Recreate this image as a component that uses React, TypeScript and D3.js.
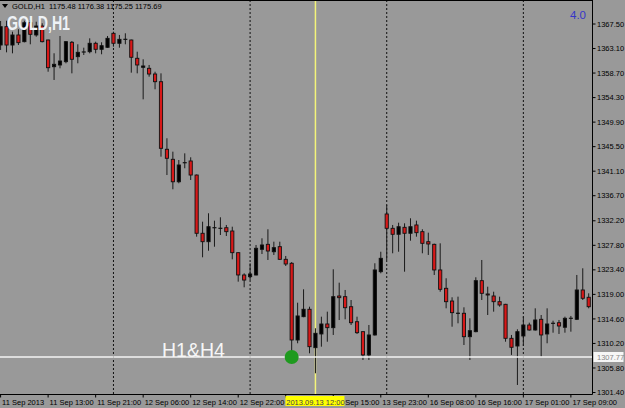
import { useEffect, useRef } from 'react'
import * as d3 from 'd3'

// hourly OHLC, GOLD H1, 11 Sep 05:00 -> 17 Sep 12:00
const open = [1363.73, 1367.02, 1363.73, 1365.53, 1364.33, 1367.73, 1365.53, 1367.14, 1364.63, 1359.84, 1360.15, 1360.74, 1364.22, 1361.64, 1362.48, 1362.53, 1364.04, 1362.96, 1363.32, 1365.83, 1364.04, 1364.75, 1364.63, 1361.35, 1359.73, 1359.55, 1358.53, 1357.15, 1345.03, 1343.23, 1339.2, 1342.62, 1342.93, 1340.41, 1329.96, 1328.45, 1330.96, 1330.85, 1330.96, 1330.37, 1326.48, 1322.48, 1322.17, 1322.48, 1327.09, 1327.98, 1326.65, 1327.56, 1325.29, 1324.58, 1310.82, 1315.0, 1316.33, 1309.44, 1311.9, 1313.69, 1313.03, 1318.71, 1318.59, 1316.79, 1314.1, 1312.31, 1308.14, 1311.72, 1323.07, 1333.42, 1330.85, 1329.78, 1331.03, 1329.96, 1331.45, 1330.25, 1328.45, 1327.98, 1323.38, 1320.09, 1317.81, 1315.61, 1315.61, 1311.41, 1312.31, 1321.46, 1319.07, 1318.71, 1317.69, 1317.22, 1311.12, 1309.74, 1311.54, 1313.51, 1312.61, 1314.53, 1311.9, 1313.81, 1313.92, 1313.1, 1314.71, 1314.53, 1319.79, 1318.48]
const high = [1368.04, 1368.09, 1366.12, 1366.55, 1368.09, 1368.22, 1367.91, 1367.63, 1364.7, 1362.25, 1365.35, 1364.45, 1364.45, 1363.86, 1363.25, 1364.93, 1364.33, 1364.22, 1365.35, 1366.12, 1365.53, 1365.83, 1364.7, 1362.53, 1361.17, 1360.15, 1358.94, 1358.65, 1347.0, 1344.6, 1343.1, 1344.3, 1343.59, 1340.5, 1332.04, 1333.55, 1332.22, 1332.83, 1331.45, 1331.14, 1326.5, 1322.78, 1324.58, 1327.86, 1329.06, 1330.68, 1328.45, 1328.45, 1325.89, 1324.8, 1317.51, 1319.91, 1316.79, 1312.92, 1315.0, 1315.9, 1323.5, 1321.1, 1319.79, 1317.99, 1315.0, 1312.4, 1313.51, 1324.58, 1326.65, 1335.03, 1331.45, 1331.86, 1331.75, 1332.65, 1332.22, 1330.68, 1330.07, 1328.1, 1328.16, 1321.89, 1318.48, 1318.59, 1316.68, 1314.71, 1322.07, 1325.17, 1320.38, 1319.48, 1318.59, 1317.3, 1311.72, 1312.74, 1315.0, 1313.92, 1316.5, 1315.3, 1316.5, 1314.28, 1314.41, 1315.0, 1315.13, 1322.48, 1323.68, 1319.19]
const low = [1362.84, 1362.42, 1362.24, 1363.73, 1364.2, 1363.86, 1365.22, 1364.2, 1358.94, 1357.46, 1359.55, 1360.45, 1358.65, 1360.45, 1361.94, 1362.24, 1362.24, 1362.07, 1363.2, 1363.43, 1363.25, 1363.86, 1358.77, 1358.65, 1353.99, 1358.05, 1355.79, 1343.7, 1340.41, 1337.85, 1338.93, 1341.62, 1339.52, 1329.35, 1325.65, 1326.83, 1327.55, 1329.65, 1329.47, 1325.29, 1321.28, 1320.27, 1321.57, 1322.4, 1326.24, 1325.17, 1326.07, 1325.2, 1324.09, 1308.43, 1310.23, 1314.9, 1308.43, 1304.85, 1309.62, 1310.51, 1311.72, 1314.4, 1314.53, 1313.51, 1311.9, 1307.23, 1307.23, 1311.6, 1322.78, 1325.17, 1326.37, 1326.65, 1323.07, 1328.63, 1329.35, 1326.37, 1326.07, 1322.48, 1319.48, 1316.5, 1313.2, 1313.81, 1309.92, 1307.23, 1312.2, 1317.99, 1315.3, 1315.9, 1316.79, 1310.51, 1308.14, 1302.75, 1309.74, 1312.5, 1312.5, 1307.82, 1310.23, 1312.13, 1311.9, 1312.13, 1312.31, 1314.4, 1317.99, 1316.5]
const close = [1367.02, 1363.73, 1365.53, 1364.15, 1367.73, 1365.65, 1367.14, 1364.33, 1359.66, 1360.27, 1360.86, 1364.33, 1361.17, 1362.42, 1362.48, 1364.04, 1362.96, 1363.61, 1364.93, 1364.04, 1364.75, 1364.75, 1361.53, 1360.15, 1359.97, 1358.53, 1357.15, 1345.2, 1343.41, 1339.2, 1342.21, 1342.62, 1340.41, 1329.96, 1328.45, 1331.14, 1330.96, 1330.85, 1330.25, 1326.48, 1322.48, 1321.57, 1322.66, 1327.27, 1327.86, 1326.78, 1327.38, 1325.29, 1324.45, 1310.82, 1315.13, 1316.33, 1309.62, 1312.02, 1313.69, 1313.03, 1318.59, 1318.41, 1316.61, 1313.92, 1312.13, 1308.14, 1311.72, 1323.38, 1325.47, 1330.85, 1329.78, 1331.14, 1329.96, 1331.14, 1330.07, 1328.16, 1328.04, 1323.38, 1319.91, 1317.69, 1315.72, 1315.61, 1311.41, 1312.49, 1321.46, 1319.19, 1318.89, 1317.69, 1317.1, 1311.12, 1309.51, 1312.31, 1313.51, 1312.61, 1314.41, 1311.72, 1313.69, 1313.81, 1313.33, 1314.71, 1314.71, 1319.79, 1318.3, 1316.79]

const priceTicks = ['1367.50', '1363.10', '1358.70', '1354.30', '1349.90', '1345.50', '1341.10', '1336.70', '1332.20', '1327.80', '1323.40', '1319.00', '1314.60', '1310.20', '1305.80', '1301.40']
const timeLabels = ['11 Sep 2013', '11 Sep 13:00', '11 Sep 21:00', '12 Sep 06:00', '12 Sep 14:00', '12 Sep 22:00', '13 Sep 07:00', '13 Sep 15:00', '13 Sep 23:00', '16 Sep 08:00', '16 Sep 16:00', '17 Sep 01:00', '17 Sep 09:00']
const timeLabelBars = [0, 8, 16, 24, 32, 40, 48, 56, 64, 72, 80, 88, 96]
const daySeparatorBars = [19, 42, 65, 88]
const markerBar = 53
const markerLabel = '2013.09.13 12:00'
const levelPrice = 1307.77
const circleBar = 49
const header = 'GOLD,H1  1175.48 1176.38 1175.25 1175.69'

export default function App() {
  const svgRef = useRef<SVGSVGElement>(null)
  const width = 625
  const height = 408

  useEffect(() => {
    if (!svgRef.current) return
    const svg = d3.select(svgRef.current)
    svg.selectAll('*').remove()

    const right = 592.5
    const bottom = 394.5
    const font = '"Liberation Sans", Arial, sans-serif'

    const x = d3.scaleLinear().domain([0, 99]).range([0.6, 588.7])
    const y = d3.scaleLinear().domain([1301.4, 1367.5]).range([392.5, 24])

    svg.append('rect').attr('width', width).attr('height', height).attr('fill', '#999999')

    // day separators
    daySeparatorBars.forEach(b => {
      svg.append('line')
        .attr('x1', x(b)).attr('x2', x(b))
        .attr('y1', 0).attr('y2', bottom)
        .attr('stroke', '#111').attr('stroke-width', 1)
        .attr('stroke-dasharray', '2,2')
    })

    // marker line
    svg.append('line')
      .attr('x1', x(markerBar)).attr('x2', x(markerBar))
      .attr('y1', 0).attr('y2', bottom)
      .attr('stroke', '#f4f47a').attr('stroke-width', 1.5)

    // candles
    const candles = svg.append('g')
    open.forEach((o, i) => {
      const c = close[i]
      const cx = x(i)
      candles.append('line')
        .attr('x1', cx).attr('x2', cx)
        .attr('y1', y(high[i])).attr('y2', y(low[i]))
        .attr('stroke', '#1a1a1a').attr('stroke-width', 1)
      if (o === c) {
        candles.append('line')
          .attr('x1', cx - 2).attr('x2', cx + 2)
          .attr('y1', y(o)).attr('y2', y(o))
          .attr('stroke', '#111').attr('stroke-width', 1.2)
        return
      }
      const top = y(Math.max(o, c))
      const h = Math.max(1, y(Math.min(o, c)) - top)
      candles.append('rect')
        .attr('x', cx - 1.6).attr('y', top)
        .attr('width', 3.2).attr('height', h)
        .attr('fill', c > o ? '#000' : '#d81818')
        .attr('stroke', '#111').attr('stroke-width', 0.9)
    })

    // level line
    svg.append('line')
      .attr('x1', 0).attr('x2', right)
      .attr('y1', y(levelPrice)).attr('y2', y(levelPrice))
      .attr('stroke', '#f4f4f4').attr('stroke-width', 1.3)

    svg.append('circle')
      .attr('cx', x(circleBar)).attr('cy', y(levelPrice))
      .attr('r', 7).attr('fill', '#1e9a1e')

    svg.append('text')
      .attr('x', 162).attr('y', 357)
      .attr('font-family', font).attr('font-size', 19.5)
      .attr('fill', '#f6f6f6')
      .text('H1&H4')

    // frame
    svg.append('line').attr('x1', 0).attr('x2', right).attr('y1', 0.5).attr('y2', 0.5).attr('stroke', '#000')
    svg.append('line').attr('x1', right).attr('x2', right).attr('y1', 0).attr('y2', bottom).attr('stroke', '#000')
    svg.append('line').attr('x1', 0).attr('x2', right).attr('y1', bottom).attr('y2', bottom).attr('stroke', '#000')

    // price axis
    priceTicks.forEach(t => {
      const ty = y(+t)
      svg.append('line').attr('x1', right).attr('x2', right + 3).attr('y1', ty).attr('y2', ty).attr('stroke', '#000')
      svg.append('text')
        .attr('x', 597).attr('y', ty).attr('dy', '0.35em')
        .attr('font-family', font).attr('font-size', 7.5).attr('fill', '#000')
        .text(t)
    })

    // level price label
    svg.append('rect').attr('x', right + 1).attr('y', y(levelPrice) - 5).attr('width', 30).attr('height', 10).attr('fill', '#f6f6f6')
    svg.append('text')
      .attr('x', 597).attr('y', y(levelPrice)).attr('dy', '0.35em')
      .attr('font-family', font).attr('font-size', 7.5).attr('fill', '#888')
      .text(levelPrice.toFixed(2))

    // time axis; the marker label box covers what lies under it
    const mx = x(markerBar)
    const boxL = mx - 30
    const boxR = mx + 29
    const clip = svg.append('defs').append('clipPath').attr('id', 'axis-clip')
    clip.append('rect').attr('x', boxR).attr('y', 395).attr('width', width - boxR).attr('height', 13)

    const labelW = 40
    timeLabels.forEach((t, k) => {
      const tx = x(timeLabelBars[k])
      svg.append('line').attr('x1', tx).attr('x2', tx).attr('y1', bottom).attr('y2', bottom + 3).attr('stroke', '#000')
      const lx = tx + 1.5
      if (lx >= boxL - 2 && lx + labelW <= boxR) return // fully hidden behind the marker label
      const label = svg.append('text')
        .attr('x', lx).attr('y', 405)
        .attr('font-family', font).attr('font-size', 7.5).attr('fill', '#000')
        .text(t)
      if (lx < boxR && lx + labelW > boxR) label.attr('clip-path', 'url(#axis-clip)')
    })

    svg.append('rect').attr('x', boxL).attr('y', 396).attr('width', boxR - boxL).attr('height', 10).attr('fill', '#ffff00')
    svg.append('text')
      .attr('x', mx).attr('y', 404.5).attr('text-anchor', 'middle')
      .attr('font-family', font).attr('font-size', 7.5).attr('fill', '#444')
      .text(markerLabel)

    // header
    svg.append('path').attr('d', 'M2,4 L8,4 L5,8 Z').attr('fill', '#000')
    svg.append('text')
      .attr('x', 12).attr('y', 9)
      .attr('font-family', font).attr('font-size', 7.5).attr('fill', '#000')
      .attr('xml:space', 'preserve')
      .text(header)

    svg.append('text')
      .attr('x', 7).attr('y', 29.5)
      .attr('font-family', font).attr('font-size', 21).attr('font-weight', 'bold')
      .attr('textLength', 63).attr('lengthAdjust', 'spacingAndGlyphs')
      .attr('fill', '#eef2f6')
      .text('GOLD,H1')

    svg.append('text')
      .attr('x', 570).attr('y', 19)
      .attr('font-family', font).attr('font-size', 11.5)
      .attr('fill', '#3535c8')
      .text('4.0')
  }, [])

  return (
    <svg
      ref={svgRef}
      width={width}
      height={height}
      style={{ position: 'absolute', left: 0, top: 0, display: 'block' }}
    />
  )
}
